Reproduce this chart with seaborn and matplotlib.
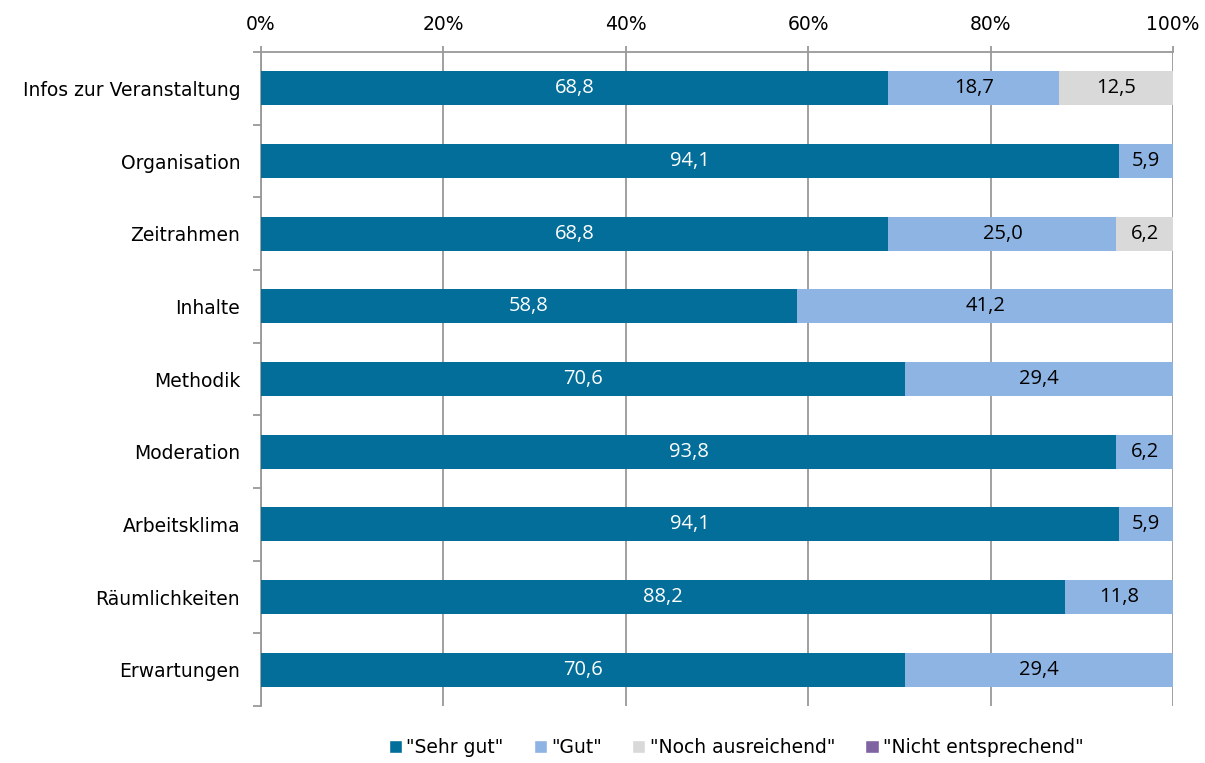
import matplotlib
matplotlib.use("Agg")
import matplotlib.pyplot as plt
import seaborn as sns
import numpy as np
import pandas as pd
from matplotlib.patches import Patch

categories = ["Infos zur Veranstaltung", "Organisation", "Zeitrahmen", "Inhalte",
              "Methodik", "Moderation", "Arbeitsklima", "Räumlichkeiten", "Erwartungen"]
sehr_gut = [68.8, 94.1, 68.8, 58.8, 70.6, 93.8, 94.1, 88.2, 70.6]
gut = [18.7, 5.9, 25.0, 41.2, 29.4, 6.2, 5.9, 11.8, 29.4]
noch_ausreichend = [12.5, 0.0, 6.2, 0.0, 0.0, 0.0, 0.0, 0.0, 0.0]
nicht_entsprechend = [0.0, 0.0, 0.0, 0.0, 0.0, 0.0, 0.0, 0.0, 0.0]
series_names = ['"Sehr gut"', '"Gut"', '"Noch ausreichend"', '"Nicht entsprechend"']
colors = ["#026E99", "#8EB4E3", "#D9D9D9", "#8064A2"]
label_colors = ["white", "black", "black", "white"]
xticks = [0, 20, 40, 60, 80, 100]

sns.set_style("white")
plt.rcParams["font.family"] = ["DejaVu Sans"]
plt.rcParams["text.color"] = "black"
plt.rcParams["xtick.color"] = "black"
plt.rcParams["ytick.color"] = "black"

series = [sehr_gut, gut, noch_ausreichend, nicht_entsprechend]
cum = np.cumsum(np.array(series), axis=0)

fig = plt.figure(figsize=(12.05, 7.63), dpi=100)
ax = fig.add_axes([0.2166, 0.0747, 0.7568, 0.8571])

for i in reversed(range(len(series))):
    df = pd.DataFrame({"cat": categories, "val": cum[i]})
    sns.barplot(data=df, y="cat", x="val", color=colors[i], orient="h",
                width=0.47, saturation=1, ax=ax, zorder=3, linewidth=0)

# labels
for i, s in enumerate(series):
    start = cum[i] - np.array(s)
    for j, v in enumerate(s):
        if v > 0:
            ax.text(start[j] + v / 2, j, f"{v:.1f}".replace(".", ","),
                    ha="center", va="center", fontsize=14.5, color=label_colors[i],
                    family=["Open Sans", "DejaVu Sans"], zorder=5)

ax.set_xlim(0, 100)
ax.set_ylim(len(categories) - 0.5, -0.5)
ax.set_xticks(xticks)
ax.set_xticklabels([f"{t}%" for t in xticks], fontsize=13.5)
ax.xaxis.tick_top()
ax.tick_params(axis="x", which="major", length=4, color="#999999", labelcolor="black",
               pad=9, top=True, bottom=False, width=1.3)
ax.set_yticks(np.arange(len(categories)))
ax.set_yticklabels(categories, fontsize=13.5)
ax.tick_params(axis="y", which="major", length=0, pad=15, labelcolor="black")
# minor ticks between categories
ax.set_yticks(np.arange(-0.5, len(categories)), minor=True)
ax.tick_params(axis="y", which="minor", left=True, length=6, color="#999999", width=1.3)
ax.set_xlabel("")
ax.set_ylabel("")
ax.grid(axis="x", color="#999999", linewidth=1.3, zorder=0)
ax.set_axisbelow(True)
for side in ["right", "bottom"]:
    ax.spines[side].set_visible(False)
for side in ["left", "top"]:
    ax.spines[side].set_color("#999999")
    ax.spines[side].set_linewidth(1.3)

handles = [Patch(facecolor=c, label=n) for c, n in zip(colors, series_names)]
fig.legend(handles=handles, loc="center", bbox_to_anchor=(0.611, 0.02), ncol=4,
           frameon=False, fontsize=13.5, handlelength=0.7, handleheight=0.7,
           handletextpad=0.25, columnspacing=1.6)

fig.savefig("out.png", dpi=100)
